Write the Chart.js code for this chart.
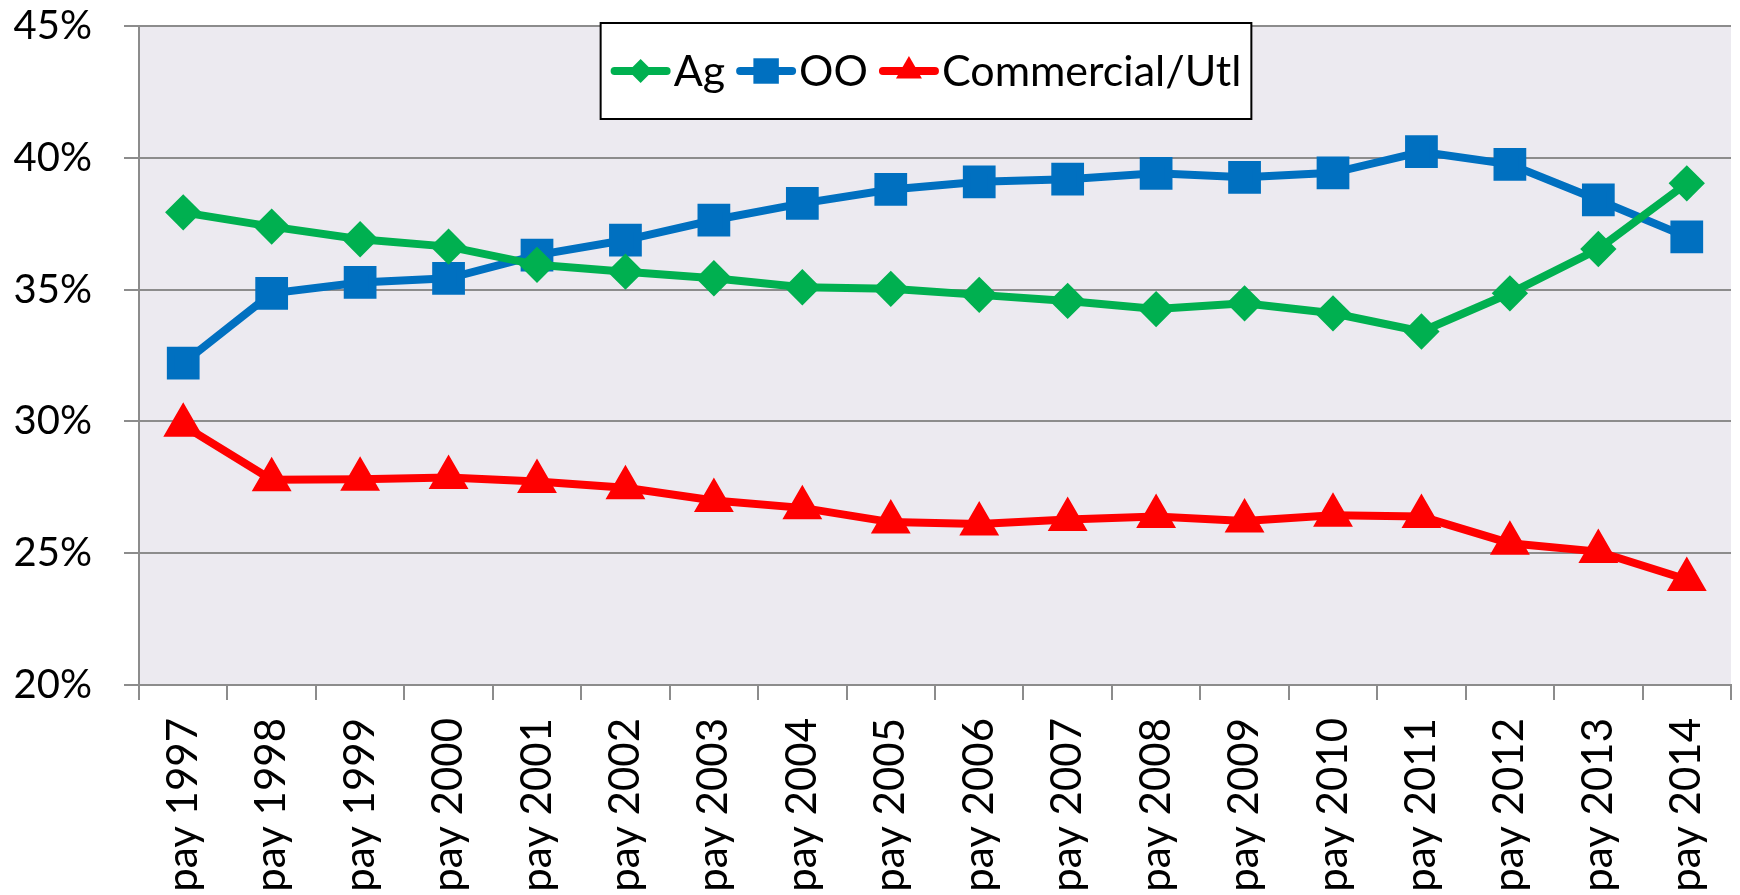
<!DOCTYPE html>
<html>
<head>
<meta charset="utf-8">
<script src="https://cdn.jsdelivr.net/npm/chart.js@4.4.0/dist/chart.umd.min.js"></script>
<style>
  body { margin: 0; background: #fff; }
  #wrap { width: 1740px; height: 895px; }
</style>
</head>
<body>
<div id="wrap"><canvas id="share-chart" width="1740" height="895"></canvas></div>
<script>
const years = ['pay 1997', 'pay 1998', 'pay 1999', 'pay 2000', 'pay 2001', 'pay 2002', 'pay 2003',
    'pay 2004', 'pay 2005', 'pay 2006', 'pay 2007', 'pay 2008', 'pay 2009', 'pay 2010', 'pay 2011',
    'pay 2012', 'pay 2013', 'pay 2014'];

const agShare = [37.93, 37.39, 36.91, 36.63, 35.94, 35.68, 35.43, 35.09, 35.03, 34.80, 34.57, 34.26,
    34.48, 34.10, 33.41, 34.86, 36.54, 39.03];
const ooShare = [32.21, 34.86, 35.27, 35.43, 36.31, 36.88, 37.64, 38.27, 38.80, 39.09, 39.19, 39.41,
    39.26, 39.43, 40.23, 39.75, 38.40, 37.00];
const commShare = [29.85, 27.79, 27.81, 27.87, 27.72, 27.48, 27.00, 26.72, 26.18, 26.11, 26.28, 26.39,
    26.22, 26.44, 26.39, 25.38, 25.06, 24.00];

const yTicks = [20, 25, 30, 35, 40, 45];

const FONT = 'Lato';
const GRID = '#8c8c8c';

// plot background
const plotBackground = {
    id: 'plotBackground',
    beforeDraw(chart) {
        const { ctx, chartArea: a } = chart;
        ctx.save();
        ctx.fillStyle = '#eceaf0';
        ctx.fillRect(a.left, a.top, a.right - a.left, a.bottom - a.top);
        ctx.restore();
    }
};

// boxed legend with line + marker samples, like the spreadsheet one
const boxLegend = {
    id: 'boxLegend',
    afterDraw(chart) {
        const { ctx } = chart;
        const sets = chart.data.datasets;
        const lineLen = 60, gapText = 3, gapItem = 11, pad = 10;
        ctx.save();
        ctx.font = '43px ' + FONT;
        let total = 0;
        sets.forEach((ds, i) => {
            total += lineLen + gapText + ctx.measureText(ds.label).width;
            if (i < sets.length - 1) total += gapItem;
        });
        const boxW = total + pad * 2;
        const cx = 926;
        const left = cx - boxW / 2, top = 23, boxH = 96;
        ctx.fillStyle = '#fff';
        ctx.fillRect(left, top, boxW, boxH);
        ctx.strokeStyle = '#000';
        ctx.lineWidth = 2;
        ctx.strokeRect(left, top, boxW, boxH);

        const midY = 71;
        let x = left + pad;
        sets.forEach(ds => {
            ctx.strokeStyle = ds.borderColor;
            ctx.lineWidth = 8;
            ctx.lineCap = 'round';
            ctx.beginPath();
            ctx.moveTo(x + 4, midY);
            ctx.lineTo(x + lineLen - 4, midY);
            ctx.stroke();
            ctx.fillStyle = ds.borderColor;
            Chart.helpers.drawPoint(ctx, {
                pointStyle: ds.pointStyle,
                radius: ds.legendRadius,
                rotation: 0,
                borderWidth: 0
            }, x + lineLen / 2, midY);
            x += lineLen + gapText;
            ctx.fillStyle = '#000';
            ctx.textBaseline = 'alphabetic';
            ctx.textAlign = 'left';
            ctx.fillText(ds.label, x, 86);
            x += ctx.measureText(ds.label).width + gapItem;
        });
        ctx.restore();
    }
};

const ctx = document.getElementById('share-chart').getContext('2d');
const chart = new Chart(ctx, {
    type: 'line',
    data: {
        labels: years,
        datasets: [
            {
                label: 'Ag',
                data: agShare,
                borderColor: '#00b050',
                backgroundColor: '#00b050',
                pointStyle: 'rectRot',
                pointRadius: 12.5,
                legendRadius: 12,
                borderWidth: 8,
            },
            {
                label: 'OO',
                data: ooShare,
                borderColor: '#0070c0',
                backgroundColor: '#0070c0',
                pointStyle: 'rect',
                pointRadius: 17.5,
                legendRadius: 18,
                borderWidth: 8,
            },
            {
                label: 'Commercial/Utl',
                data: commShare,
                borderColor: '#ff0000',
                backgroundColor: '#ff0000',
                pointStyle: 'triangle',
                pointRadius: 15,
                legendRadius: 15,
                borderWidth: 8,
            }
        ]
    },
    options: {
        responsive: false,
        animation: false,
        devicePixelRatio: 1,
        layout: {
            autoPadding: false,
            padding: { top: 26, right: 9, left: 0, bottom: 0 }
        },
        elements: {
            line: { tension: 0 },
            point: { borderWidth: 0, hoverRadius: 15 }
        },
        scales: {
            x: {
                type: 'category',
                offset: true,
                afterFit: s => {
                    s.height = 895 - 685;
                    s.paddingLeft = 0;
                    s.paddingRight = 0;
                },
                grid: {
                    offset: true,
                    drawOnChartArea: false,
                    drawTicks: true,
                    tickLength: 15,
                    color: GRID,
                    lineWidth: 2
                },
                border: { display: true, color: GRID, width: 2 },
                ticks: {
                    minRotation: 90,
                    maxRotation: 90,
                    autoSkip: false,
                    padding: 18,
                    color: '#000',
                    font: { family: FONT, size: 42 }
                }
            },
            y: {
                min: 20,
                max: 45,
                afterFit: s => {
                    s.width = 139;
                    s.paddingTop = 0;
                    s.paddingBottom = 0;
                },
                afterBuildTicks: s => { s.ticks = yTicks.map(v => ({ value: v })); },
                grid: {
                    color: GRID,
                    lineWidth: 2,
                    drawTicks: true,
                    tickLength: 15
                },
                border: { display: true, color: GRID, width: 2 },
                ticks: {
                    padding: 32,
                    color: '#000',
                    font: { family: FONT, size: 40 },
                    callback: v => v + '%'
                }
            }
        },
        plugins: {
            legend: { display: false },
            title: { display: false },
            tooltip: { enabled: true }
        }
    },
    plugins: [plotBackground, boxLegend]
});
</script>
</body>
</html>
